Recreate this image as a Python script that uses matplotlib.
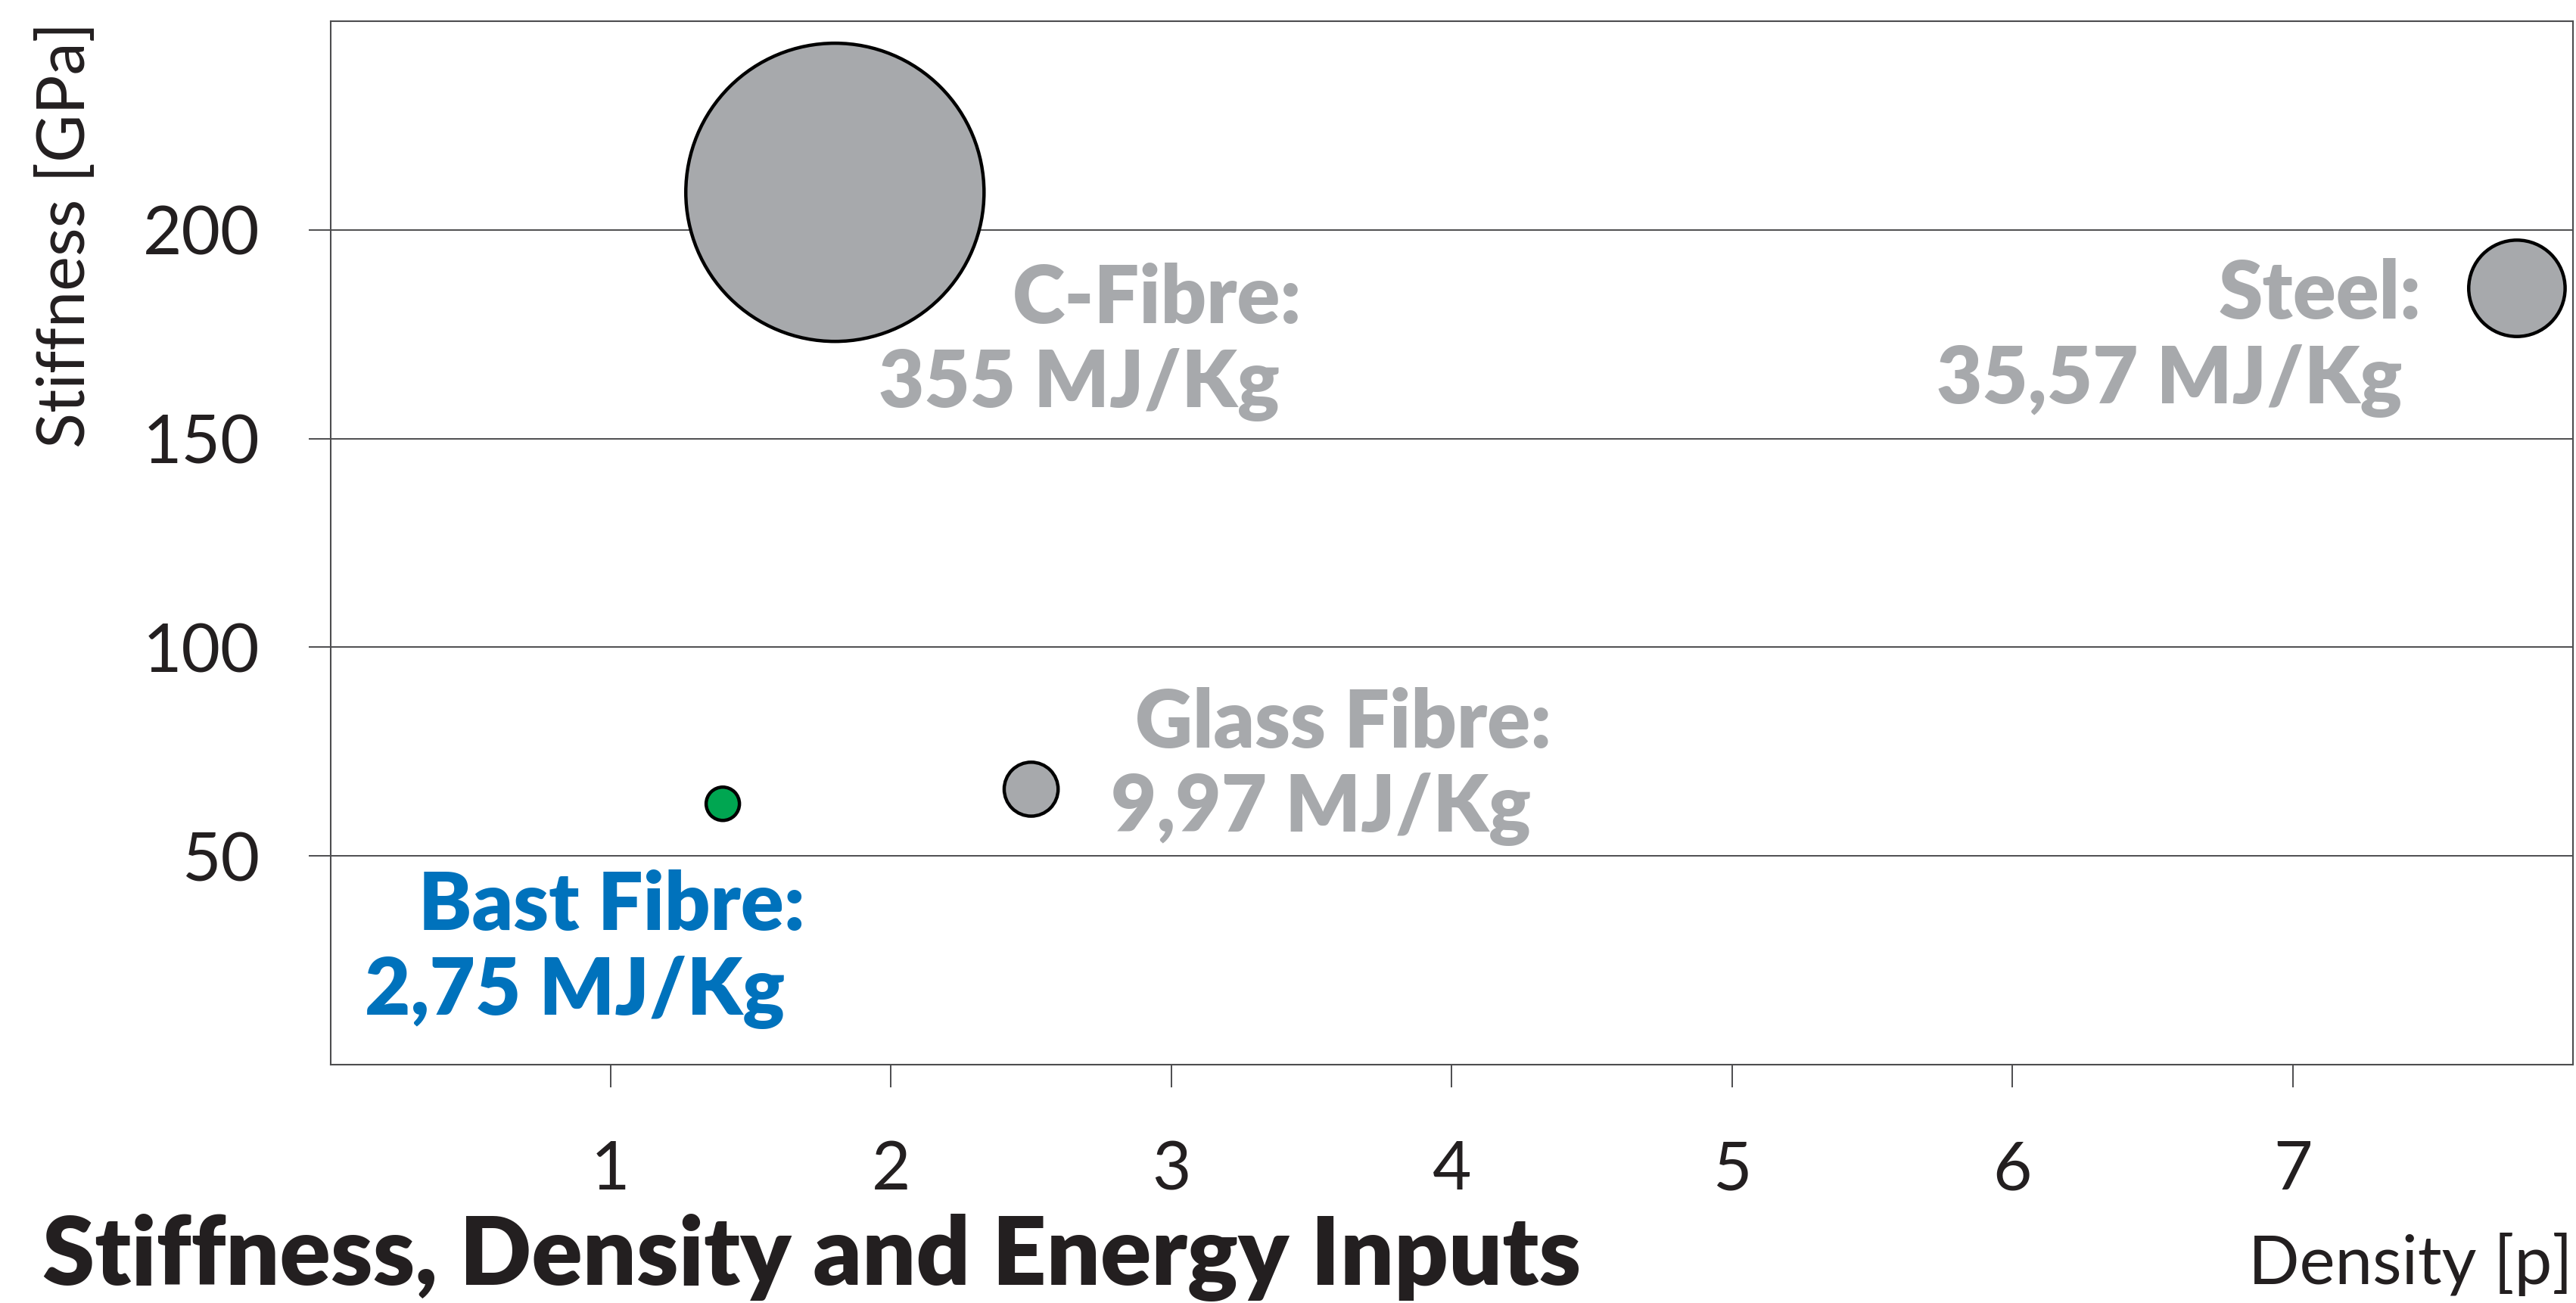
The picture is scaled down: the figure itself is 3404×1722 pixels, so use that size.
import matplotlib
matplotlib.use("Agg")
import matplotlib.pyplot as plt

# ---- data ----
materials = ["C-Fibre", "Steel", "Glass Fibre", "Bast Fibre"]
density = [1.8, 7.8, 2.5, 1.4]
stiffness = [209, 186, 66, 62.5]
energy = [355, 35.57, 9.97, 2.75]
energy_text = ["355", "35,57", "9,97", "2,75"]
x_ticks = [1, 2, 3, 4, 5, 6, 7]
y_ticks = [50, 100, 150, 200]

W, H, DPI = 3405, 1722, 100
GRAY = "#A7A9AC"
GREEN = "#00A651"
BLUE = "#0072BC"
DARK = "#231F20"
LINE = "#4D4D4F"
FONT = "Lato"

fig = plt.figure(figsize=(W / DPI, H / DPI), dpi=DPI)
L, R, T, B = 436.5, 3400, 28, 1407
ax = fig.add_axes([L / W, 1 - B / H, (R - L) / W, (B - T) / H])
ax.set_xlim(0, 8)
ax.set_ylim(0, 250)

for s in ax.spines.values():
    s.set_color(LINE)
    s.set_linewidth(1.5)

ax.set_xticks(x_ticks)
ax.set_yticks(y_ticks)
ax.set_xticklabels([str(v) for v in x_ticks])
ax.set_yticklabels([str(v) for v in y_ticks])
ax.tick_params(axis="x", direction="out", length=21.6, width=1.4, color=LINE,
               pad=50, labelsize=64, labelcolor=DARK)
ax.tick_params(axis="y", direction="out", length=21, width=1.4, color=LINE,
               pad=46, labelsize=64, labelcolor=DARK)
for lab in ax.get_xticklabels() + ax.get_yticklabels():
    lab.set_family(FONT)
ax.grid(axis="y", color=LINE, linewidth=1.4)
ax.set_axisbelow(True)

colors = [GRAY, GRAY, GRAY, GREEN]
sizes = [225.7 * e + 384 for e in energy]
ax.scatter(density, stiffness, s=sizes, c=colors, edgecolors="black",
           linewidths=3.2, zorder=3, clip_on=False)


def ftext(x, y, s, **kw):
    fig.text(x / W, 1 - y / H, s, family=FONT, **kw)


# labels: (right edge line1, baseline1, right edge line2, baseline2)
label_pos = [(1720, 427, 1691, 538), (3200, 421, 3174, 533),
             (2050, 988, 2023, 1099), (1064, 1229, 1037, 1341)]
label_colors = [GRAY, GRAY, GRAY, BLUE]
for name, et, (x1, y1, x2, y2), c in zip(materials, energy_text, label_pos, label_colors):
    ftext(x1, y1, name + ":", ha="right", va="baseline", fontsize=76,
          fontweight="heavy", color=c)
    ftext(x2, y2, et + " MJ/Kg", ha="right", va="baseline", fontsize=75,
          fontweight="heavy", color=c)

ftext(87, 29, "Stiffness [GPa]", rotation=90, ha="center", va="top",
      fontsize=62.5, color=DARK)
ftext(3400, 1697, "Density [p]", ha="right", va="baseline", fontsize=64, color=DARK)
ftext(56, 1698, "Stiffness, Density and Energy Inputs", ha="left", va="baseline",
      fontsize=90, fontweight="heavy", color=DARK)

fig.savefig("out.png", dpi=DPI, facecolor="white")
